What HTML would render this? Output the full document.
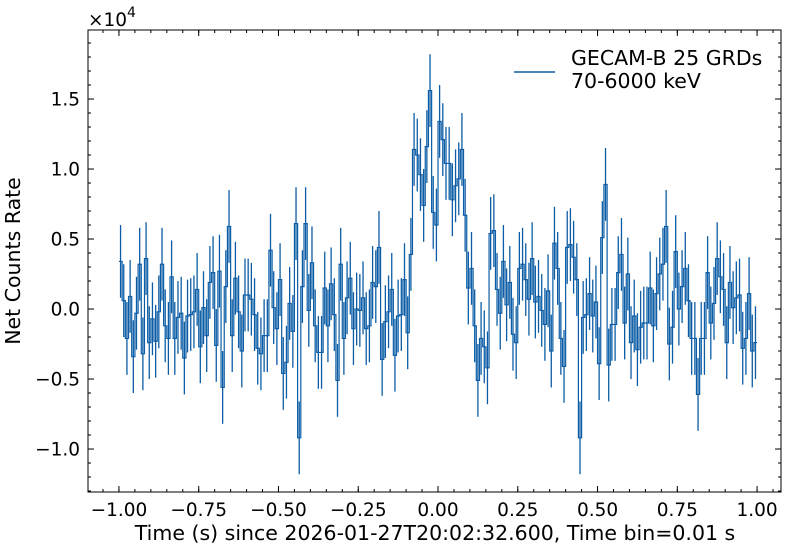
<!DOCTYPE html>
<html><head><meta charset="utf-8"><style>
html,body{margin:0;padding:0;background:#fff}
svg{display:block;font-family:"DejaVu Sans","Liberation Sans",sans-serif}
</style></head><body>
<svg id="chart" width="789" height="547" xmlns="http://www.w3.org/2000/svg">
<g id="marks"></g>
<g id="axes"></g>
<rect x="88" y="30" width="693" height="462" fill="none" stroke="#000" stroke-width="1"/>
<text x="88" y="26" font-size="18.5">×10<tspan dy="-9" font-size="14">4</tspan></text>
<text transform="translate(20,261) rotate(-90)" text-anchor="middle" font-size="20.5">Net Counts Rate</text>
<text x="435" y="540" text-anchor="middle" font-size="20.5">Time (s) since 2026-01-27T20:02:32.600, Time bin=0.01 s</text>
<g>
<line x1="514" y1="72" x2="555" y2="72" stroke="#0C5DA5" stroke-width="1.4"/>
<text x="571" y="65" font-size="20.5">GECAM-B 25 GRDs</text>
<text x="571" y="88" font-size="20.5">70-6000 keV</text>
</g>
</svg>
<script>
const binStart = -1.0;
const binWidth = 0.01;
const rates = [3.4,0.6,-2.1,0.9,-3.4,-0.3,3.2,-3.2,3.6,-2.4,-0.7,-2.3,-0.2,3.2,-1.2,-2.1,2.3,-2.1,-0.6,-0.3,-3.5,-0.5,-0.4,-0.2,1.4,-2.7,0.1,-1.9,1.9,2.6,-2.6,2.7,-5.6,1.6,5.9,-1.9,2.2,-0.2,-3.0,1.0,1.0,0.7,-0.4,-2.8,-3.2,-1.9,-1.9,4.2,0.1,-1.4,2.1,
-4.6,-3.8,0.4,-1.6,6.1,-9.2,1.6,6.1,-0.1,3.3,-1.2,-3.1,-3.1,1.5,-1.2,1.8,-0.4,-5.1,3.2,-2.1,0.8,2.2,-1.4,0,-0.1,0.8,-1.4,-1.2,1.9,1.6,4.4,-3.6,-0.9,-0.2,1.4,-3.3,-0.5,-0.4,2.1,-1.7,3.9,
11.4,11.0,9.6,7.4,11.6,15.6,6.9,6.0,13.4,12.1,10.4,10.4,7.8,8.8,9.3,11.4,6.7,1.5,2.9,-1.2,-5.1,-2.1,-2.7,-4.2,5.4,5.6,1.4,-0.3,3.4,0.3,1.9,-1.8,-2.4,2.9,3.2,2.1,0.7,3.6,0.5,0.9,-0.1,-1.1,1.3,-3.0,4.7,2.9,-2.1,-4.1,4.4,4.6,3.7,2.1,-9.2,-0.6,-0.4,1.1,-0.5,0.5,
-3.9,5.1,8.9,-4.0,-1.1,-1.1,2.6,3.9,-1.0,2.5,-2.4,-0.5,-2.9,-1.3,-1.0,-1.0,1.5,-1.2,1.1,2.5,3.2,5.9,-2.5,-1.3,4.1,0,1.6,2.9,0.6,-2.1,-2.1,-6.1,-2.1,-2.1,2.6,-1.0,0.4,3.6,2.3,1.4,-2.4,1.9,0.1,0.8,1.0,-2.8,-2.1,1.1,-3.0,-2.4];
const errHalf = 2.6;
const xTicks = [-1.0,-0.75,-0.5,-0.25,0,0.25,0.5,0.75,1.0];
const xTickLabels = ["−1.00","−0.75","−0.50","−0.25","0.00","0.25","0.50","0.75","1.00"];
const yTicks = [-10,-5,0,5,10,15];
const yTickLabels = ["−1.0","−0.5","0.0","0.5","1.0","1.5"];

const NS="http://www.w3.org/2000/svg";
const X0=88,X1=781,Y0=30,Y1=492;
const xmin=-1.097,xmax=1.075,ymin=-13.07,ymax=19.93;
function sx(v){return X0+(v-xmin)/(xmax-xmin)*(X1-X0);}
function sy(v){return Y1-(v-ymin)/(ymax-ymin)*(Y1-Y0);}
const marks=document.getElementById('marks');
const axes=document.getElementById('axes');
const col="#0C5DA5";
for(let i=0;i<rates.length;i++){
  const xc=sx(binStart+(i+0.5)*binWidth);
  const l=document.createElementNS(NS,'line');
  l.setAttribute('x1',xc);l.setAttribute('x2',xc);
  l.setAttribute('y1',sy(rates[i]-errHalf));l.setAttribute('y2',sy(rates[i]+errHalf));
  l.setAttribute('stroke',col);l.setAttribute('stroke-width','1.3');
  
  
  marks.appendChild(l);
}
let d='';
for(let i=0;i<rates.length;i++){
  const xa=sx(binStart+i*binWidth),xb=sx(binStart+(i+1)*binWidth),y=sy(rates[i]);
  d+=(i===0?'M':'L')+xa.toFixed(2)+','+y.toFixed(2)+'L'+xb.toFixed(2)+','+y.toFixed(2);
}
const p=document.createElementNS(NS,'path');
p.setAttribute('d',d);p.setAttribute('fill','none');p.setAttribute('stroke',col);p.setAttribute('stroke-width','1.2');


marks.appendChild(p);
function ln(x1,y1,x2,y2){const l=document.createElementNS(NS,'line');l.setAttribute('x1',x1);l.setAttribute('y1',y1);l.setAttribute('x2',x2);l.setAttribute('y2',y2);l.setAttribute('stroke','#000');l.setAttribute('stroke-width','1');axes.appendChild(l);return l;}
for(let k=-22;k<=21;k++){const v=k*0.05;if(v<xmin||v>xmax)continue;const x=sx(v);
  const a=ln(x,Y1,x,Y1-3);
  const b=ln(x,Y0,x,Y0+3);}
for(let k=-13;k<=19;k++){const y=sy(k);
  const a=ln(X0,y,X0+3,y);
  const b=ln(X1,y,X1-3,y);}
xTicks.forEach((v,i)=>{const x=sx(v);
  const a=ln(x,Y1,x,Y1-6);
  const b=ln(x,Y0,x,Y0+6);
  const t=document.createElementNS(NS,'text');t.setAttribute('x',x);t.setAttribute('y',Y1+24);t.setAttribute('text-anchor','middle');t.setAttribute('font-size','18.5');t.textContent=xTickLabels[i];
  
  
  axes.appendChild(t);});
yTicks.forEach((v,i)=>{const y=sy(v);
  const a=ln(X0,y,X0+6,y);
  const b=ln(X1,y,X1-6,y);
  const t=document.createElementNS(NS,'text');t.setAttribute('x',X0-8);t.setAttribute('y',y+6.5);t.setAttribute('text-anchor','end');t.setAttribute('font-size','18.5');t.textContent=yTickLabels[i];
  
  
  axes.appendChild(t);});
</script>
</body></html>
